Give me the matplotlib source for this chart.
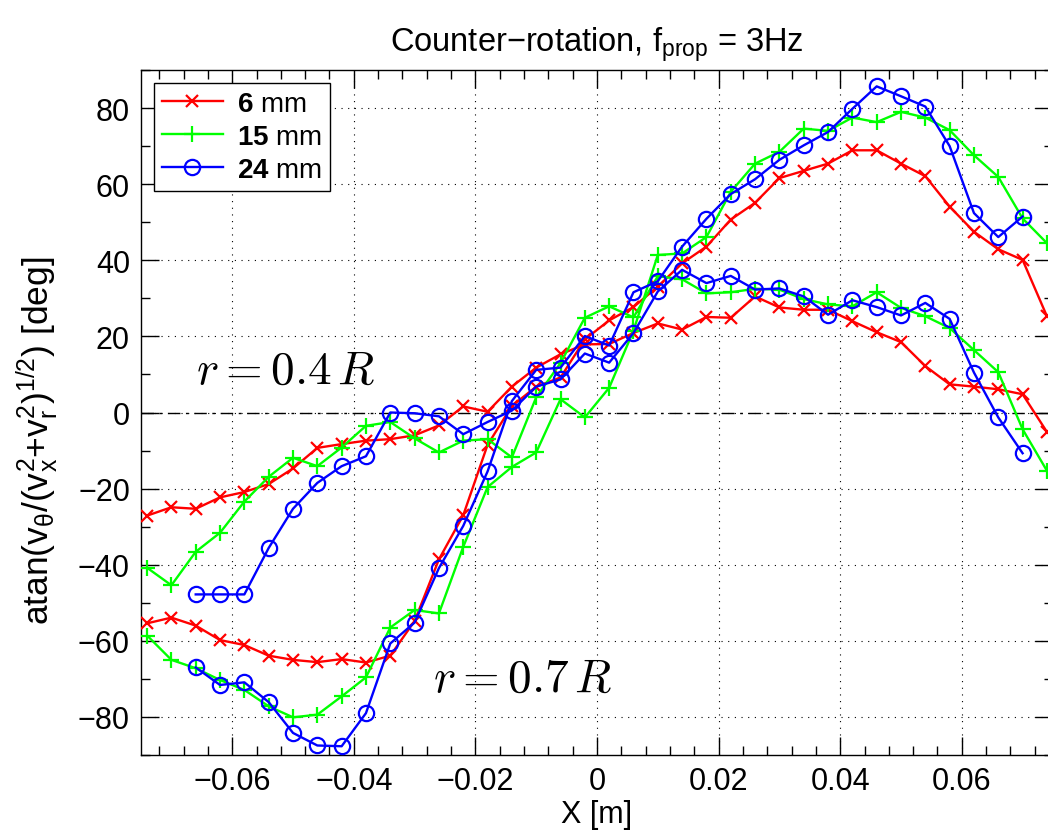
import numpy as np
import matplotlib
matplotlib.use("Agg")
import matplotlib.pyplot as plt
from matplotlib.ticker import MultipleLocator, FuncFormatter
from matplotlib.lines import Line2D

plt.rcParams['font.family'] = ['Liberation Sans', 'DejaVu Sans']
plt.rcParams['mathtext.fontset'] = 'custom'
plt.rcParams['mathtext.rm'] = 'Liberation Sans'
plt.rcParams['mathtext.it'] = 'Liberation Sans:italic'
plt.rcParams['mathtext.bf'] = 'Liberation Sans:bold'

# measurement positions [m]
x_pos = [-0.074, -0.070, -0.066, -0.062, -0.058, -0.054, -0.050, -0.046,
         -0.042, -0.038, -0.034, -0.030, -0.026, -0.022, -0.018, -0.014,
         -0.010, -0.006, -0.002, 0.002, 0.006, 0.010, 0.014, 0.018,
         0.022, 0.026, 0.030, 0.034, 0.038, 0.042, 0.046, 0.050,
         0.054, 0.058, 0.062, 0.066, 0.070, 0.074]
x_blue = x_pos[2:37]

heights = ["6", "15", "24"]

# r = 0.4 R
red_04 = [-27.1, -24.9, -25.3, -22.3, -20.9, -18.8, -14.7, -9.3, -8.3, -7.4,
          -7.0, -6.0, -3.4, 1.6, 0.2, 6.8, 11.8, 15.3, 17.9, 18.0,
          20.9, 23.4, 21.8, 25.1, 24.9, 30.5, 27.6, 27.0, 27.0, 24.0,
          21.1, 18.5, 12.2, 7.4, 6.8, 6.1, 4.8, -5.1]
green_04 = [-40.8, -45.4, -36.6, -31.6, -23.4, -16.9, -11.9, -14.1, -9.2, -3.5,
            -2.5, -6.8, -10.5, -7.4, -7.0, -11.8, 4.0, 13.0, 24.9, 27.9,
            25.0, 35.8, 35.0, 31.3, 31.6, 32.5, 32.3, 29.8, 28.4, 27.9,
            31.6, 27.5, 25.3, 22.2, 16.4, 10.6, -4.4, -15.3]
blue_04 = [-47.8, -47.8, -47.8, -35.6, -25.3, -18.5, -14.1, -11.5, 0.0, -0.2,
           -1.0, -5.7, -2.5, 0.5, 6.8, 8.7, 15.5, 13.1, 20.9, 31.8,
           37.5, 34.0, 35.9, 32.3, 32.6, 30.5, 25.7, 29.5, 27.7, 25.5,
           28.8, 24.6, 10.5, -1.3, -10.7]

# r = 0.7 R
red_07 = [-55.4, -53.9, -56.0, -59.8, -61.1, -63.9, -65.0, -65.6, -64.8, -65.7,
          -63.9, -54.8, -38.6, -27.0, -8.5, 1.7, 6.8, 9.2, 19.2, 24.2,
          27.7, 33.1, 39.2, 43.6, 50.7, 55.1, 61.6, 63.5, 65.4, 68.9,
          68.9, 65.4, 62.1, 54.1, 47.5, 42.9, 40.1, 25.3]
green_07 = [-58.6, -65.0, -67.2, -70.3, -72.9, -77.2, -80.1, -79.4, -74.6, -69.6,
            -56.5, -51.9, -52.8, -35.3, -19.6, -14.3, -10.5, 3.5, -1.3, 6.5,
            21.5, 41.4, 41.8, 46.1, 58.0, 65.4, 68.5, 74.6, 74.0, 77.5,
            76.3, 79.0, 77.5, 74.2, 67.6, 61.9, 51.0, 44.5]
blue_07 = [-67.0, -71.6, -70.9, -76.1, -84.2, -87.5, -87.7, -79.0, -60.7, -55.2,
           -40.9, -29.8, -15.5, 3.0, 11.2, 11.8, 20.1, 17.6, 31.6, 34.5,
           43.6, 50.9, 57.4, 61.3, 66.4, 70.2, 73.7, 79.8, 85.7, 83.1,
           80.4, 70.0, 52.4, 46.1, 51.5]

fig = plt.figure(figsize=(10.48, 8.37), dpi=100)
ax = fig.add_axes([141 / 1048, 81 / 837, 912 / 1048, 685 / 837])

ax.axhline(0, color="black", lw=1.0, dashes=(9, 4, 2, 4), zorder=1)

styles = [
    ("red", "x", 9, x_pos, red_04, red_07),
    ((0, 1, 0), "+", 11, x_pos, green_04, green_07),
    ("blue", "o", 11, x_blue, blue_04, blue_07),
]
handles = []
for (col, mk, ms, xs, y04, y07), h in zip(styles, heights):
    for ys in (y04, y07):
        ax.plot(xs, ys, color=col, marker=mk, ms=ms, mew=1.6, lw=1.7,
                mfc="none", zorder=3)
    handles.append(Line2D([], [], color=col, marker=mk, ms=ms, mew=1.6,
                          lw=1.7, mfc="none",
                          label=r"$\mathbf{%s}$ mm" % h))

ax.set_xlim(-0.075, 0.075)
ax.set_ylim(-90, 90)
ax.xaxis.set_major_locator(MultipleLocator(0.02))
ax.xaxis.set_minor_locator(MultipleLocator(0.004))
ax.yaxis.set_major_locator(MultipleLocator(20))
ax.yaxis.set_minor_locator(MultipleLocator(10))
ax.xaxis.set_major_formatter(FuncFormatter(
    lambda v, p: "0" if abs(v) < 1e-9 else ("%.2f" % v).replace("-", "\u2212")))
ax.yaxis.set_major_formatter(FuncFormatter(
    lambda v, p: ("%d" % round(v)).replace("-", "\u2212")))

ax.tick_params(which="both", direction="in", top=True, right=True,
               labelsize=22, width=1.0)
ax.tick_params(which="major", length=13, pad=8)
ax.tick_params(which="minor", length=6.5)
ax.grid(True, which="major", color="black", ls=(0, (1, 5)), lw=0.8)
for s in ax.spines.values():
    s.set_linewidth(1.0)

ax.text(-0.066, 11, r"$r = 0.4\,R$", fontsize=34, math_fontfamily="cm",
        va="center", ha="left")
ax.text(-0.027, -70, r"$r = 0.7\,R$", fontsize=34, math_fontfamily="cm",
        va="center", ha="left")

ax.set_title("Counter\u2212rotation, f$_{\\mathrm{prop}}$ = 3Hz",
             fontsize=23.5, pad=14)
ax.set_xlabel("X [m]", fontsize=22, labelpad=2)
ax.set_ylabel(r"atan(v$_{\mathrm{θ}}$/(v$_{\mathrm{x}}^{\mathrm{2}}$+v$_{\mathrm{r}}^{\mathrm{2}}$)$^{\mathrm{1/2}}$) [deg]",
              fontsize=25.5, va="center")
ax.yaxis.set_label_coords(-0.113, 0.46)

leg = ax.legend(handles=handles, loc="upper left", fontsize=20,
                handlelength=2.2, borderaxespad=0.45, fancybox=False,
                edgecolor="black", framealpha=1, labelspacing=0.25,
                handletextpad=0.5, borderpad=0.3)
leg.get_frame().set_linewidth(1.0)

fig.savefig("out.png", dpi=100)
